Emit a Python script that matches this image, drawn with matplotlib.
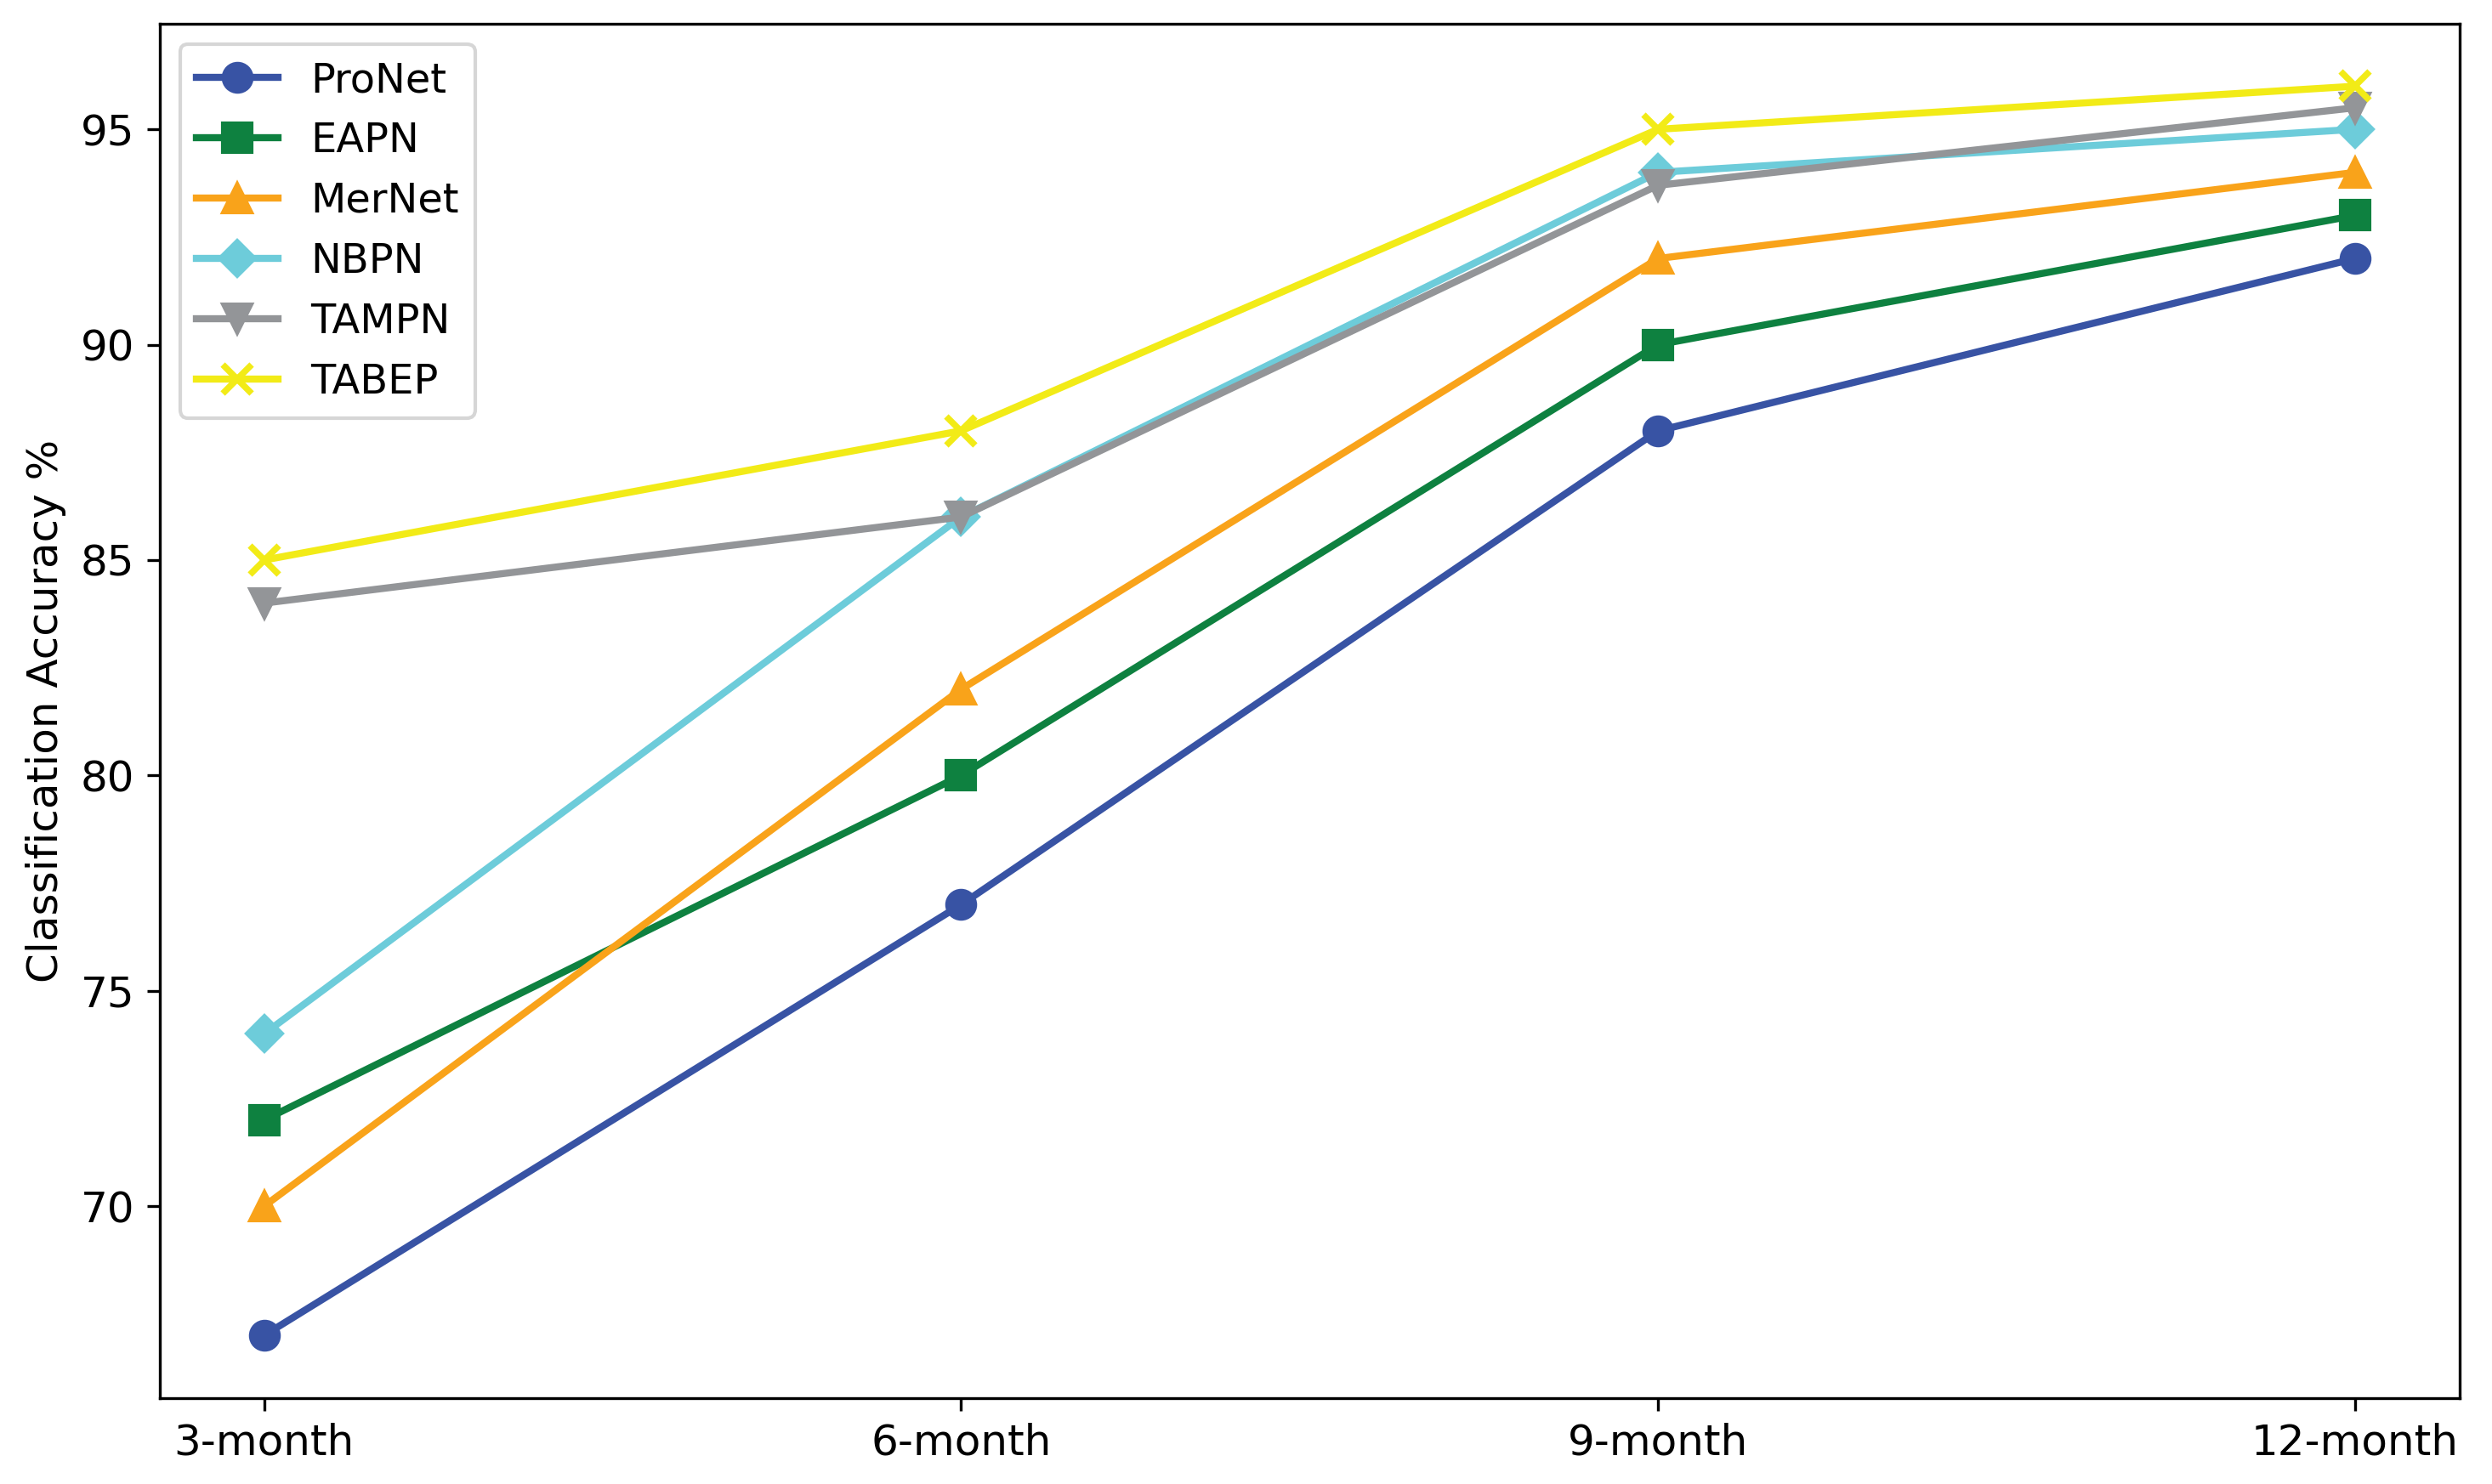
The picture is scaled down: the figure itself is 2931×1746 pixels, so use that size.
import matplotlib
matplotlib.use("Agg")
import matplotlib.pyplot as plt

periods = ["3-month", "6-month", "9-month", "12-month"]
pronet = [67, 77, 88, 92]
eapn = [72, 80, 90, 93]
mernet = [70, 82, 92, 94]
nbpn = [74, 86, 94, 95]
tampn = [84, 86, 93.7, 95.5]
tabep = [85, 88, 95, 96]

series = [
    ("ProNet", pronet, "#3853A4", "o"),
    ("EAPN", eapn, "#0E8140", "s"),
    ("MerNet", mernet, "#F9A31A", "^"),
    ("NBPN", nbpn, "#6DCCDA", "D"),
    ("TAMPN", tampn, "#939598", "v"),
    ("TABEP", tabep, "#F2EB17", "x"),
]

fig, ax = plt.subplots(figsize=(9.77, 5.82), dpi=300)
x = list(range(len(periods)))
for name, vals, c, m in series:
    ms = 7 if m == "D" else 8
    ax.plot(x, vals, color=c, marker=m, lw=2.0, markersize=ms, label=name,
            markeredgewidth=1.8 if m == "x" else 1.0)
ax.set_xticks(x)
ax.set_xticklabels(periods, fontsize=12)
ax.tick_params(axis="y", labelsize=12)
ax.set_ylabel("Classification Accuracy %", fontsize=12)
ax.legend(loc="upper left", fontsize=11.5)
fig.subplots_adjust(left=0.064, right=0.987, top=0.984, bottom=0.058)
fig.savefig("out.png", dpi=300)
